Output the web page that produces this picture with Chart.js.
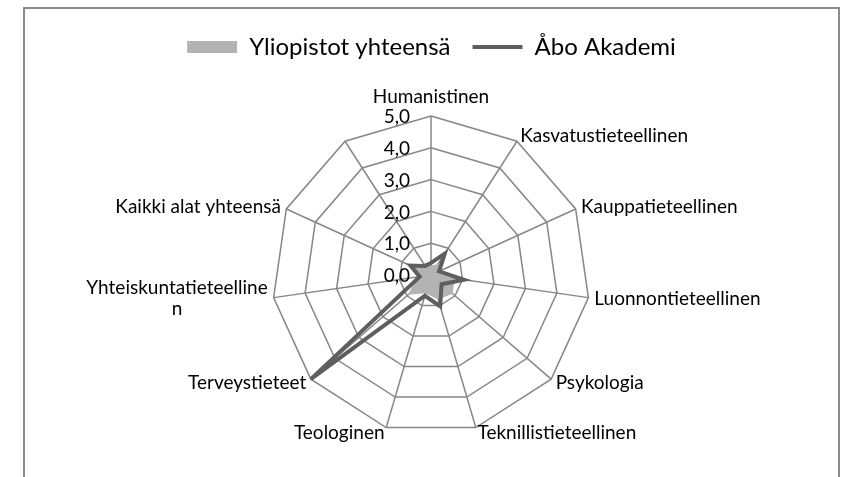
<!DOCTYPE html>
<html>
<head>
<meta charset="utf-8">
<script src="https://cdn.jsdelivr.net/npm/chart.js@4.4.1/dist/chart.umd.min.js"></script>
<style>
  html, body { margin: 0; padding: 0; background: #fff; overflow: hidden; }
  #frame { position: absolute; left: 23px; top: 7px; width: 813px; height: 520px; border: 2px solid #8c8c8c; }
  #chart { position: absolute; left: 0; top: 0; }
</style>
</head>
<body>
<div id="frame"></div>
<canvas id="chart" width="848" height="477"></canvas>
<script>
// ---- data ----
const categories = ['Humanistinen', 'Kasvatustieteellinen', 'Kauppatieteellinen', 'Luonnontieteellinen',
  'Psykologia', 'Teknillistieteellinen', 'Teologinen', 'Terveystieteet',
  ['Yhteiskuntatieteelline', 'n'], 'Kaikki alat yhteensä', ''];
const yliopistot = [0.3, 0.4, 0.35, 0.75, 0.9, 0.8, 0.6, 0.95, 0.45, 0.55, 0.35];
const aboAkademi = [0.38, 0.8, 0.28, 1.05, 0.44, 1.03, 0.68, 5.0, 0.36, 0.71, 0.34];
const tickLabels = ['0,0', '1,0', '2,0', '3,0', '4,0', '5,0'];

const FONT = 'Lato';
const GRID = '#878787';

// ---- value labels left of the vertical spoke (Excel style) ----
const tickLabelPlugin = {
  id: 'tickLabels',
  afterDatasetsDraw(chart) {
    const r = chart.scales.r;
    const ctx = chart.ctx;
    ctx.save();
    ctx.font = '19px ' + FONT;
    ctx.fillStyle = '#000';
    ctx.textAlign = 'right';
    ctx.textBaseline = 'middle';
    r.ticks.forEach((t, i) => {
      const p = r.getPointPositionForValue(0, t.value);
      ctx.fillText(tickLabels[i], p.x - 21, p.y + 1);
    });
    ctx.restore();
  }
};

// ---- category labels, centred on the spoke ends ----
const categoryLabelPlugin = {
  id: 'categoryLabels',
  afterDraw(chart) {
    const r = chart.scales.r;
    const ctx = chart.ctx;
    const lineH = 21;
    ctx.save();
    ctx.font = '19px ' + FONT;
    ctx.fillStyle = '#000';
    ctx.textAlign = 'center';
    ctx.textBaseline = 'middle';
    categories.forEach((label, i) => {
      const lines = [].concat(label);
      const p = r.getPointPosition(i, r.drawingArea + 6);
      const w = Math.max(...lines.map(l => ctx.measureText(l).width));
      let bx = p.x;
      if (p.x > r.xCenter + 1) bx = p.x + w / 2;
      else if (p.x < r.xCenter - 1) bx = p.x - w / 2;
      let top = p.y - lines.length * lineH / 2;
      if (Math.abs(p.x - r.xCenter) < 1 && p.y < r.yCenter) top = p.y - lines.length * lineH - 3;
      lines.forEach((l, k) => ctx.fillText(l, bx, top + lineH * (k + 0.5)));
    });
    ctx.restore();
  }
};

new Chart(document.getElementById('chart'), {
  type: 'radar',
  data: {
    labels: categories,
    datasets: [
      {
        label: 'Yliopistot yhteensä',
        data: yliopistot,
        order: 2,
        fill: true,
        backgroundColor: '#b3b3b3',
        borderWidth: 0,
        pointRadius: 0,
        pointStyle: 'rect',
        pointBackgroundColor: '#b3b3b3',
        pointBorderWidth: 0
      },
      {
        label: 'Åbo Akademi',
        data: aboAkademi,
        order: 1,
        fill: false,
        borderColor: '#5e5e5e',
        borderWidth: 4,
        borderJoinStyle: 'miter',
        pointRadius: 0,
        pointStyle: 'line',
        pointBorderColor: '#5e5e5e',
        pointBorderWidth: 4
      }
    ]
  },
  options: {
    responsive: false,
    animation: false,
    layout: { padding: { top: 13, bottom: 42.5, left: 15, right: 0 } },
    plugins: {
      legend: {
        position: 'top',
        reverse: true,
        labels: {
          usePointStyle: true,
          pointStyleWidth: 50,
          boxHeight: 12,
          padding: 22,
          color: '#000',
          font: { family: FONT, size: 24 }
        }
      },
      // empty title used as a spacer between legend and plot
      title: {
        display: true,
        text: '',
        weight: 500,
        font: { size: 10, lineHeight: 1 },
        padding: { top: 0, bottom: 37.5 }
      },
      tooltip: { enabled: false }
    },
    scales: {
      r: {
        min: 0,
        max: 5,
        ticks: { stepSize: 1, display: false },
        grid: { color: GRID, lineWidth: 1.5 },
        angleLines: { color: GRID, lineWidth: 1.5 },
        pointLabels: { display: false }
      }
    }
  },
  plugins: [tickLabelPlugin, categoryLabelPlugin]
});
</script>
</body>
</html>
